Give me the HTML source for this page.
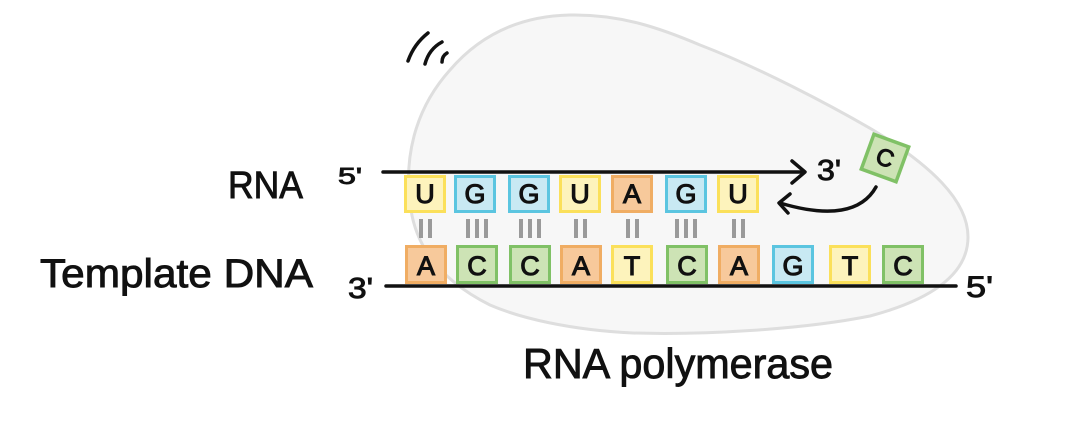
<!DOCTYPE html>
<html>
<head>
<meta charset="utf-8">
<style>
html,body{margin:0;padding:0;background:#fff;}
svg{display:block;}
text{font-family:"Liberation Sans",sans-serif;fill:#111;}
</style>
</head>
<body>
<svg width="1083" height="430" viewBox="0 0 1083 430" xmlns="http://www.w3.org/2000/svg">
  <!-- polymerase blob -->
  <path d="M 570 15 C 620 14, 660 28, 700 45 C 760 68, 830 105, 873 130 C 930 165, 968 200, 968 237 C 968 275, 930 300, 870 316 C 800 330, 700 335, 633 333 C 570 330, 520 318, 490 305 C 450 285, 418 255, 411 210 C 403 160, 414 110, 450 70 C 480 35, 520 16, 570 15 Z" fill="#f7f7f7" stroke="#dedede" stroke-width="3"/>

  <!-- motion marks -->
  <g stroke="#111" stroke-width="3.5" stroke-linecap="round" fill="none">
    <path d="M 408 61 Q 414 44 428 33"/>
    <path d="M 425 64 Q 429 49 442 42"/>
    <path d="M 442 62 Q 442 56 447 53"/>
  </g>

  <!-- strands -->
  <g stroke="#111" stroke-width="3.5" stroke-linecap="round" fill="none">
    <line x1="383" y1="172" x2="804" y2="172"/>
    <polyline points="792,161 805,172 792,183" stroke-linejoin="round"/>
    <line x1="386" y1="286" x2="956" y2="286"/>
    <path d="M 876 187 C 862 212, 830 218, 780 203"/>
    <polyline points="790,194 779,203 788,213" stroke-linejoin="round"/>
  </g>

  <!-- RNA boxes -->
  <g stroke-width="3">
    <rect x="405.5" y="176.5" width="39" height="35" fill="#fdf3bc" stroke="#fbe05a"/>
    <rect x="455.5" y="176.5" width="39" height="35" fill="#c8e9f3" stroke="#5bc5e0"/>
    <rect x="509.5" y="176.5" width="39" height="35" fill="#c8e9f3" stroke="#5bc5e0"/>
    <rect x="560.5" y="176.5" width="39" height="35" fill="#fdf3bc" stroke="#fbe05a"/>
    <rect x="612.5" y="176.5" width="39" height="35" fill="#f7c99b" stroke="#f0ad63"/>
    <rect x="666.5" y="176.5" width="39" height="35" fill="#c8e9f3" stroke="#5bc5e0"/>
    <rect x="718.5" y="176.5" width="39" height="35" fill="#fdf3bc" stroke="#fbe05a"/>
  </g>
  <g font-size="27" text-anchor="middle" stroke="#111" stroke-width="1.1">
    <text x="425" y="203">U</text>
    <text x="475" y="203">G</text>
    <text x="529" y="203">G</text>
    <text x="580" y="203">U</text>
    <text x="632" y="203">A</text>
    <text x="686" y="203">G</text>
    <text x="738" y="203">U</text>
  </g>

  <!-- bonds -->
  <g fill="#9a9a9a">
    <rect x="419" y="219" width="4" height="19"/><rect x="428" y="219" width="4" height="19"/>
    <rect x="466" y="219" width="4" height="19"/><rect x="475" y="219" width="4" height="19"/><rect x="484" y="219" width="4" height="19"/>
    <rect x="519" y="219" width="4" height="19"/><rect x="528" y="219" width="4" height="19"/><rect x="537" y="219" width="4" height="19"/>
    <rect x="574" y="219" width="4" height="19"/><rect x="583" y="219" width="4" height="19"/>
    <rect x="626" y="219" width="4" height="19"/><rect x="635" y="219" width="4" height="19"/>
    <rect x="675" y="219" width="4" height="19"/><rect x="684" y="219" width="4" height="19"/><rect x="693" y="219" width="4" height="19"/>
    <rect x="732" y="219" width="4" height="19"/><rect x="741" y="219" width="4" height="19"/>
  </g>

  <!-- DNA boxes -->
  <g stroke-width="3">
    <rect x="406.5" y="246.5" width="39" height="36" fill="#f7c99b" stroke="#f0ad63"/>
    <rect x="457.5" y="246.5" width="39" height="36" fill="#cde3b5" stroke="#80c166"/>
    <rect x="510.5" y="246.5" width="39" height="36" fill="#cde3b5" stroke="#80c166"/>
    <rect x="561.5" y="246.5" width="39" height="36" fill="#f7c99b" stroke="#f0ad63"/>
    <rect x="612.5" y="246.5" width="39" height="36" fill="#fdf3bc" stroke="#fbe05a"/>
    <rect x="667.5" y="246.5" width="39" height="36" fill="#cde3b5" stroke="#80c166"/>
    <rect x="719.5" y="246.5" width="39" height="36" fill="#f7c99b" stroke="#f0ad63"/>
    <rect x="773.5" y="246.5" width="39" height="36" fill="#c8e9f3" stroke="#5bc5e0"/>
    <rect x="830.5" y="246.5" width="39" height="36" fill="#fdf3bc" stroke="#fbe05a"/>
    <rect x="883.5" y="246.5" width="39" height="36" fill="#cde3b5" stroke="#80c166"/>
  </g>
  <g font-size="27" text-anchor="middle" stroke="#111" stroke-width="1.1">
    <text x="426" y="275">A</text>
    <text x="477" y="275">C</text>
    <text x="530" y="275">C</text>
    <text x="581" y="275">A</text>
    <text x="632" y="275">T</text>
    <text x="687" y="275">C</text>
    <text x="739" y="275">A</text>
    <text x="793" y="275">G</text>
    <text x="850" y="275">T</text>
    <text x="903" y="275">C</text>
  </g>

  <!-- incoming C nucleotide -->
  <g transform="translate(885 158) rotate(20)">
    <rect x="-18.5" y="-18.5" width="37" height="37" fill="#cde3b5" stroke="#80c166" stroke-width="3.5"/>
    <text x="0" y="8" font-size="24" text-anchor="middle" stroke="#111" stroke-width="1.1">C</text>
  </g>

  <!-- labels -->
  <g stroke="#111" stroke-width="0.9">
    <text x="228" y="198" font-size="38" textLength="75" lengthAdjust="spacingAndGlyphs">RNA</text>
    <text x="40" y="287" font-size="40" textLength="273" lengthAdjust="spacingAndGlyphs">Template DNA</text>
    <text x="338" y="184" font-size="23" textLength="24" lengthAdjust="spacingAndGlyphs">5'</text>
    <text x="348" y="298" font-size="29" textLength="25" lengthAdjust="spacingAndGlyphs">3'</text>
    <text x="817" y="180" font-size="29" textLength="24" lengthAdjust="spacingAndGlyphs">3'</text>
    <text x="966" y="297" font-size="30" textLength="27" lengthAdjust="spacingAndGlyphs">5'</text>
    <text x="523" y="378" font-size="42" textLength="310" lengthAdjust="spacingAndGlyphs">RNA polymerase</text>
  </g>
</svg>
</body>
</html>
